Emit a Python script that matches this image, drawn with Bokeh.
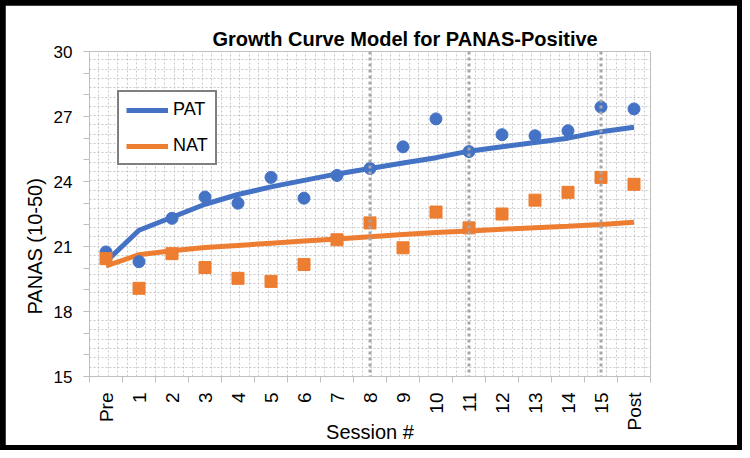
import math
import numpy as np
from bokeh.plotting import figure
from bokeh.layouts import column
from bokeh.models import (Range1d, FixedTicker, Span, Title, Legend, LegendItem,
                          ColumnDataSource, Grid)
from bokeh.embed import file_html
from bokeh.resources import INLINE

# ---------------- data ----------------
sessions = ["Pre", "1", "2", "3", "4", "5", "6", "7", "8", "9", "10",
            "11", "12", "13", "14", "15", "Post"]
pat_obs = [20.75, 20.3, 22.3, 23.28, 23.0, 24.19, 23.23, 24.28, 24.6, 25.6,
           26.89, 25.38, 26.16, 26.11, 26.34, 27.44, 27.35]
nat_obs = [20.44, 19.07, 20.67, 20.03, 19.53, 19.39, 20.17, 21.31, 22.09, 20.94,
           22.59, 21.86, 22.5, 23.14, 23.5, 24.19, 23.87]
pat_fit = [20.3, 21.75, 22.35, 22.95, 23.4, 23.75, 24.05, 24.35, 24.6, 24.85,
           25.1, 25.4, 25.6, 25.8, 26.0, 26.3, 26.5]
nat_fit = [20.1, 20.62, 20.8, 20.95, 21.05, 21.15, 21.25, 21.35, 21.45, 21.55,
           21.65, 21.72, 21.8, 21.87, 21.94, 22.02, 22.12]
phase_marks = ["8", "11", "15"]
y_ticks = [15, 18, 21, 24, 27, 30]

BLUE = "#4472C4"
ORANGE = "#ED7D31"
FONT = "Liberation Sans"
B = 5                      # outer border thickness
W, H = 742 - 2 * B, 450 - 2 * B

xs = list(range(len(sessions)))
src = ColumnDataSource(dict(x=xs, pat_obs=pat_obs, nat_obs=nat_obs,
                            pat_fit=pat_fit, nat_fit=nat_fit))

p = figure(width=W, height=H, output_backend="svg", toolbar_location=None,
           x_range=Range1d(-0.5, len(sessions) - 0.5), y_range=Range1d(15, 30),
           min_border_left=84, min_border_right=87, min_border_top=46,
           min_border_bottom=66, margin=(B, B, B, B))
p.outline_line_color = None
p.background_fill_color = "white"
p.border_fill_color = "white"

# dotted background grid (pattern-like)
p.xgrid.visible = False
p.ygrid.visible = False
gx = Grid(dimension=0, ticker=FixedTicker(ticks=list(np.arange(-0.5, 16.6, 0.285))),
          grid_line_color="#c8c8c8", grid_line_dash="2 2", grid_line_width=1)
gy = Grid(dimension=1, ticker=FixedTicker(ticks=list(np.arange(15, 30.01, 0.43))),
          grid_line_color="#c8c8c8", grid_line_dash="2 2", grid_line_width=1)
p.add_layout(gx)
p.add_layout(gy)

# phase markers
for s in phase_marks:
    p.add_layout(Span(location=sessions.index(s), dimension="height",
                      line_color="#a6a6a6", line_width=3, line_dash="3 3"))

# fitted curves
l_pat = p.line("x", "pat_fit", source=src, line_color=BLUE, line_width=5)
l_nat = p.line("x", "nat_fit", source=src, line_color=ORANGE, line_width=5)
# observed means
p.scatter("x", "pat_obs", source=src, marker="circle", size=12,
          fill_color=BLUE, line_color=BLUE)
p.scatter("x", "nat_obs", source=src, marker="square", size=12,
          fill_color=ORANGE, line_color=ORANGE)

# axes
xax = p.xaxis[0]
xax.ticker = FixedTicker(ticks=xs, minor_ticks=[i - 0.5 for i in range(len(sessions) + 1)])
xax.major_label_overrides = {i: s for i, s in enumerate(sessions)}
xax.major_label_orientation = math.pi / 2
xax.major_tick_line_color = None
xax.major_tick_out = 0
xax.major_tick_in = 0
xax.minor_tick_out = 6
xax.minor_tick_in = 0
xax.minor_tick_line_color = "#bfbfbf"
xax.axis_line_color = "#bfbfbf"
xax.major_label_text_font = FONT
xax.major_label_text_font_size = "19px"
xax.major_label_text_color = "#000000"
xax.major_label_standoff = 10
xax.axis_label = "Session #"
xax.axis_label_text_font = FONT
xax.axis_label_text_font_size = "20px"
xax.axis_label_text_font_style = "normal"
xax.axis_label_text_color = "#000000"
xax.axis_label_standoff = -13

yax = p.yaxis[0]
yax.ticker = FixedTicker(ticks=y_ticks, minor_ticks=list(range(15, 31)))
yax.major_tick_out = 6
yax.major_tick_in = 0
yax.minor_tick_out = 6
yax.minor_tick_in = 0
yax.major_tick_line_color = "#bfbfbf"
yax.minor_tick_line_color = "#bfbfbf"
yax.axis_line_color = "#bfbfbf"
yax.major_label_text_font = FONT
yax.major_label_text_font_size = "17px"
yax.major_label_text_color = "#000000"
yax.major_label_standoff = 11

p.add_layout(Title(text="PANAS (10-50)", text_font=FONT, text_font_size="20px",
                   text_font_style="normal", text_color="#000000",
                   align="left", offset=62, standoff=9), "left")

p.add_layout(Title(text="Growth Curve Model for PANAS-Positive", text_font=FONT,
                   text_font_size="20px", text_font_style="bold",
                   text_color="#000000", align="left", offset=123,
                   standoff=4), "above")

legend = Legend(items=[LegendItem(label="PAT", renderers=[l_pat]),
                       LegendItem(label="NAT", renderers=[l_nat])],
                location=(28, 211), orientation="vertical",
                label_text_font=FONT, label_text_font_size="18px",
                label_text_color="#000000", glyph_width=42, glyph_height=20,
                label_height=20, spacing=15, padding=7, margin=0,
                label_standoff=5, border_line_color="black", border_line_width=2,
                background_fill_color="white", background_fill_alpha=1)
p.add_layout(legend)

page = column(p, styles={"background-color": "black"})

open("out.html", "w").write(file_html(page, INLINE))
